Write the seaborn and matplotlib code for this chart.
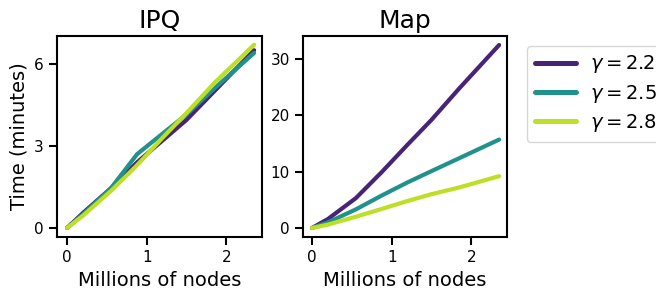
import matplotlib
matplotlib.use("Agg")
import matplotlib.pyplot as plt
import pandas as pd
import seaborn as sns

# millions of nodes
nodes = [0, 0.2, 0.55, 0.88, 1.2, 1.5, 1.85, 2.35]
gammas = ["2.2", "2.5", "2.8"]

# IPQ times (minutes)
ipq_22 = [0, 0.55, 1.45, 2.4, 3.2, 3.95, 5.0, 6.5]
ipq_25 = [0, 0.5, 1.45, 2.7, 3.45, 4.15, 5.1, 6.4]
ipq_28 = [0, 0.45, 1.35, 2.3, 3.3, 4.2, 5.3, 6.7]

# Map times (minutes)
map_22 = [0, 1.6, 5.3, 10.0, 14.8, 19.2, 24.8, 32.5]
map_25 = [0, 1.0, 3.3, 5.8, 8.1, 10.1, 12.4, 15.7]
map_28 = [0, 0.6, 2.0, 3.4, 4.8, 6.0, 7.2, 9.2]

rows = []
for panel, series in [("IPQ", [ipq_22, ipq_25, ipq_28]), ("Map", [map_22, map_25, map_28])]:
    for g, vals in zip(gammas, series):
        for x, y in zip(nodes, vals):
            rows.append({"panel": panel, "gamma": r"$\gamma = %s$" % g, "x": x, "y": y})
df = pd.DataFrame(rows)

sns.set_style("ticks")
plt.rcParams["font.family"] = ["DejaVu Sans"]
for k in ["text.color", "axes.labelcolor", "xtick.color", "ytick.color", "axes.edgecolor"]:
    plt.rcParams[k] = "black"
plt.rcParams["axes.linewidth"] = 1.5
plt.rcParams["xtick.major.width"] = 1.5
plt.rcParams["ytick.major.width"] = 1.5
plt.rcParams["xtick.major.size"] = 6
plt.rcParams["ytick.major.size"] = 6

cmap = plt.get_cmap("viridis")
palette = [cmap(0.1), cmap(0.5), cmap(0.9)]

fig = plt.figure(figsize=(6.56, 2.89), dpi=100)
ax1 = fig.add_axes([0.087, 0.180, 0.3125, 0.6955])
ax2 = fig.add_axes([0.462, 0.180, 0.311, 0.6955])

sns.lineplot(data=df[df.panel == "IPQ"], x="x", y="y", hue="gamma", palette=palette,
             linewidth=3, ax=ax1, legend=False)
sns.lineplot(data=df[df.panel == "Map"], x="x", y="y", hue="gamma", palette=palette,
             linewidth=3, ax=ax2)

ax1.set_title("IPQ", fontsize=18)
ax2.set_title("Map", fontsize=18)
ax1.set_xlabel("Millions of nodes", fontsize=14)
ax2.set_xlabel("Millions of nodes", fontsize=14)
ax1.set_ylabel("Time (minutes)", fontsize=14)
ax2.set_ylabel("")
ax1.set_yticks([0, 3, 6])
ax2.set_yticks([0, 10, 20, 30])
for ax in (ax1, ax2):
    ax.set_xticks([0, 1, 2])
    ax.tick_params(labelsize=11)
ax1.set_xlim(-0.126, 2.45)
ax1.set_ylim(-0.33, 7.02)
ax2.set_xlim(-0.113, 2.45)
ax2.set_ylim(-1.6, 34.1)

leg = ax2.legend(loc="upper left", bbox_to_anchor=(1.05, 1.0), fontsize=14,
                 handlelength=2.1, handletextpad=0.75, borderpad=0.4,
                 labelspacing=0.38, frameon=True)
for line in leg.get_lines():
    line.set_linewidth(3.6)

fig.savefig("out.png", dpi=100)
